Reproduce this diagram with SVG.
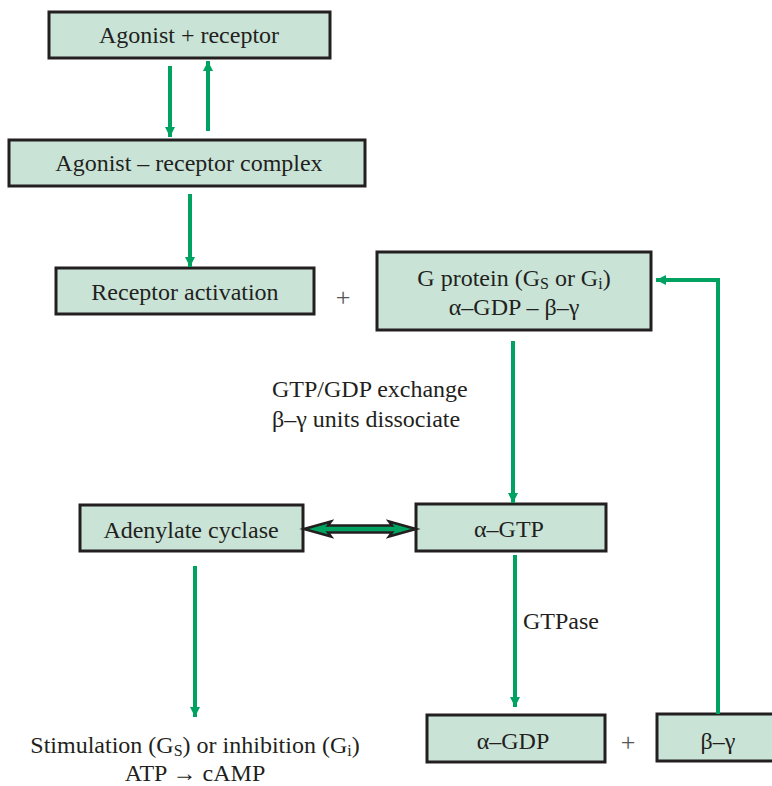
<svg xmlns="http://www.w3.org/2000/svg" width="772" height="786" viewBox="0 0 772 786">
<defs>
<style>
.box{fill:#c9e4d7;stroke:#231f20;stroke-width:3}
.t{font-family:"Liberation Serif","Times New Roman",serif;font-size:24px;fill:#231f20}
.c{text-anchor:middle}
.sub{font-size:16px}
.plus{font-family:"Liberation Serif",serif;font-size:26px;fill:#555555;text-anchor:middle}
.ln{fill:none;stroke:#00a262;stroke-width:4}
</style>
<marker id="ah" viewBox="0 0 10 10" refX="10" refY="5" markerWidth="10" markerHeight="12" markerUnits="userSpaceOnUse" orient="auto">
<path d="M0,0 L10,5 L0,10 z" fill="#00a262"/>
</marker>
</defs>
<rect width="772" height="786" fill="#ffffff"/>

<g id="n-agonist-receptor">
<rect class="box" x="49" y="12" width="281" height="46"/>
<text class="t c" x="189" y="43">Agonist + receptor</text>
</g>
<g id="n-complex">
<rect class="box" x="9" y="140" width="356" height="46"/>
<text class="t c" x="189" y="171">Agonist – receptor complex</text>
</g>
<g id="n-activation">
<rect class="box" x="56" y="268" width="258" height="46"/>
<text class="t c" x="185" y="300">Receptor activation</text>
</g>
<g id="plus1"><text class="plus" x="343" y="306">+</text></g>
<g id="n-gprotein">
<rect class="box" x="377" y="252" width="274" height="78"/>
<text class="t c" x="514" y="286">G protein  (G<tspan class="sub" dy="3">S</tspan><tspan dy="-3"> or G</tspan><tspan class="sub" dy="3">i</tspan><tspan dy="-3">)</tspan></text>
<text class="t c" x="514" y="315">α–GDP – β–γ</text>
</g>
<g id="l-exchange">
<text class="t" x="272" y="397">GTP/GDP exchange</text>
<text class="t" x="272" y="427">β–γ units dissociate</text>
</g>
<g id="n-adenylate">
<rect class="box" x="80" y="505" width="223" height="46"/>
<text class="t c" x="191" y="538">Adenylate cyclase</text>
</g>
<g id="n-agtp">
<rect class="box" x="416" y="504" width="190" height="47"/>
<text class="t c" x="509" y="537">α–GTP</text>
</g>
<g id="l-gtpase"><text class="t" x="523" y="629">GTPase</text></g>
<g id="l-stim">
<text class="t c" x="195" y="753">Stimulation (G<tspan class="sub" dy="3">S</tspan><tspan dy="-3">) or inhibition (G</tspan><tspan class="sub" dy="3">i</tspan><tspan dy="-3">)</tspan></text>
<text class="t c" x="195" y="781">ATP → cAMP</text>
</g>
<g id="n-agdp">
<rect class="box" x="427" y="715" width="178" height="47"/>
<text class="t c" x="513" y="749">α–GDP</text>
</g>
<g id="plus2"><text class="plus" x="628" y="751">+</text></g>
<g id="n-bg">
<rect class="box" x="657" y="714" width="124" height="47"/>
<text class="t c" x="718" y="749">β–γ</text>
</g>

<g id="connectors">
<line class="ln" x1="170" y1="66" x2="170" y2="137" marker-end="url(#ah)"/>
<line class="ln" x1="208" y1="131" x2="208" y2="61" marker-end="url(#ah)"/>
<line class="ln" x1="190" y1="194" x2="190" y2="267" marker-end="url(#ah)"/>
<line class="ln" x1="513" y1="341" x2="513" y2="503" marker-end="url(#ah)"/>
<line class="ln" x1="515" y1="555" x2="515" y2="707" marker-end="url(#ah)"/>
<line class="ln" x1="195" y1="566" x2="195" y2="717" marker-end="url(#ah)"/>
<polyline class="ln" points="718,714 718,280 656,280" marker-end="url(#ah)"/>
<polygon points="304,529 331,521.5 328,525.5 392,525.5 389,521.5 416,529 389,536.5 392,532.5 328,532.5 331,536.5" fill="#00a262" stroke="#231f20" stroke-width="2.5" stroke-linejoin="miter"/>
</g>
</svg>
